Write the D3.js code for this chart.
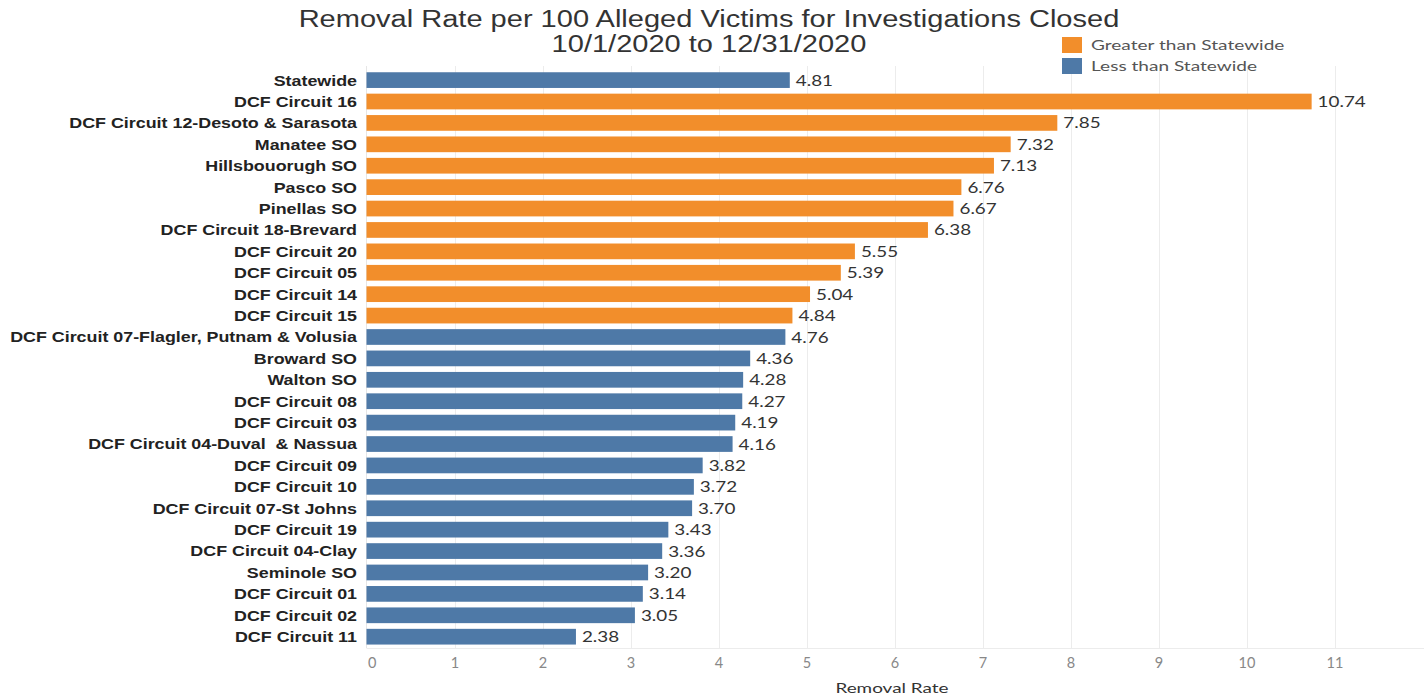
<!DOCTYPE html>
<html>
<head>
<meta charset="utf-8">
<script src="https://cdn.jsdelivr.net/npm/d3@7"></script>
<style>
  html, body { margin: 0; padding: 0; background: #fff; }
  svg { display: block; }
  text { white-space: pre; }
</style>
</head>
<body>
<svg id="chart" width="1424" height="696"></svg>
<script>
const categories = [
  "Statewide", "DCF Circuit 16", "DCF Circuit 12-Desoto & Sarasota", "Manatee SO",
  "Hillsbouorugh SO", "Pasco SO", "Pinellas SO", "DCF Circuit 18-Brevard",
  "DCF Circuit 20", "DCF Circuit 05", "DCF Circuit 14", "DCF Circuit 15",
  "DCF Circuit 07-Flagler, Putnam & Volusia", "Broward SO", "Walton SO",
  "DCF Circuit 08", "DCF Circuit 03", "DCF Circuit 04-Duval  & Nassua",
  "DCF Circuit 09", "DCF Circuit 10", "DCF Circuit 07-St Johns", "DCF Circuit 19",
  "DCF Circuit 04-Clay", "Seminole SO", "DCF Circuit 01", "DCF Circuit 02", "DCF Circuit 11"
];
const values = [
  4.81, 10.74, 7.85, 7.32, 7.13, 6.76, 6.67, 6.38, 5.55, 5.39, 5.04, 4.84,
  4.76, 4.36, 4.28, 4.27, 4.19, 4.16, 3.82, 3.72, 3.70, 3.43, 3.36, 3.20, 3.14, 3.05, 2.38
];
const groups = [
  "Less than Statewide", "Greater than Statewide", "Greater than Statewide", "Greater than Statewide",
  "Greater than Statewide", "Greater than Statewide", "Greater than Statewide", "Greater than Statewide",
  "Greater than Statewide", "Greater than Statewide", "Greater than Statewide", "Greater than Statewide",
  "Less than Statewide", "Less than Statewide", "Less than Statewide", "Less than Statewide",
  "Less than Statewide", "Less than Statewide", "Less than Statewide", "Less than Statewide",
  "Less than Statewide", "Less than Statewide", "Less than Statewide", "Less than Statewide",
  "Less than Statewide", "Less than Statewide", "Less than Statewide"
];
const legendLabels = ["Greater than Statewide", "Less than Statewide"];
const legendColors = ["#F28E2B", "#4E79A7"];
const xTicks = [0, 1, 2, 3, 4, 5, 6, 7, 8, 9, 10, 11];
const titleLines = ["Removal Rate per 100 Alleged Victims for Investigations Closed", "10/1/2020 to 12/31/2020"];
const xAxisTitle = "Removal Rate";

const data = categories.map((c, i) => ({ cat: c, val: values[i], grp: groups[i] }));

// horizontally stretch text (reference image is widened)
function stretch(sel, factor) {
  sel.each(function () {
    const w = this.getComputedTextLength();
    d3.select(this).attr("textLength", w * factor).attr("lengthAdjust", "spacingAndGlyphs");
  });
}

const svg = d3.select("#chart");
const x = d3.scaleLinear().domain([0, 11.96]).range([366.5, 1419]);
const y = d3.scaleBand().domain(categories).range([69.4, 647.4]).paddingInner(0.266).paddingOuter(0.133);
const color = d3.scaleOrdinal().domain(legendLabels).range(legendColors);

// gridlines
svg.append("g").selectAll("line").data(xTicks.slice(1)).join("line")
  .attr("x1", d => Math.round(x(d)) + 0.5).attr("x2", d => Math.round(x(d)) + 0.5)
  .attr("y1", 66).attr("y2", 648)
  .attr("stroke", "#ececec").attr("stroke-width", 1);

svg.append("line").attr("x1", x(0)).attr("x2", x(0)).attr("y1", 66).attr("y2", 648)
  .attr("stroke", "#e6e6e6");
svg.append("line").attr("x1", x(0)).attr("x2", 1424).attr("y1", 648.5).attr("y2", 648.5)
  .attr("stroke", "#ececec");

// bars
svg.append("g").selectAll("rect").data(data).join("rect")
  .attr("x", x(0))
  .attr("y", d => y(d.cat))
  .attr("width", d => x(d.val) - x(0))
  .attr("height", y.bandwidth())
  .attr("fill", d => color(d.grp));

// value labels
const vl = svg.append("g").selectAll("text").data(data).join("text")
  .attr("x", d => x(d.val) + 6)
  .attr("y", d => y(d.cat) + y.bandwidth() / 2)
  .attr("dy", "0.38em")
  .attr("font-family", "Lato, 'Open Sans', sans-serif")
  .attr("font-size", "14.5px")
  .attr("fill", "#333")
  .text(d => d.val.toFixed(2));
stretch(vl, 1.3);

// category labels
const cl = svg.append("g").selectAll("text").data(data).join("text")
  .attr("x", 357)
  .attr("y", d => y(d.cat) + y.bandwidth() / 2)
  .attr("dy", "0.36em")
  .attr("text-anchor", "end")
  .attr("font-family", "'Liberation Sans', Arial, sans-serif")
  .attr("font-weight", "bold")
  .attr("font-size", "15px")
  .attr("fill", "#222")
  .text(d => d.cat);
stretch(cl, 1.19);

// x axis
const xAxis = d3.axisBottom(x).tickValues(xTicks).tickSize(0).tickPadding(10).tickFormat(d3.format("d"));
const gx = svg.append("g").attr("transform", "translate(0,648)").call(xAxis);
gx.select(".domain").remove();
gx.selectAll("text")
  .attr("font-family", "Lato, 'Open Sans', sans-serif")
  .attr("font-size", "14.5px")
  .attr("fill", "#888");
gx.selectAll(".tick").filter(d => d === 0).select("text").attr("text-anchor", "start").attr("dx", "1");

const at = svg.append("text").attr("x", 892).attr("y", 693)
  .attr("text-anchor", "middle")
  .attr("font-family", "Lato, 'Open Sans', sans-serif")
  .attr("font-size", "13.5px")
  .attr("fill", "#333")
  .text(xAxisTitle);
stretch(at, 1.4);

// title
const tt = svg.append("g").selectAll("text").data(titleLines).join("text")
  .attr("x", 709)
  .attr("y", (d, i) => 27 + i * 25)
  .attr("text-anchor", "middle")
  .attr("font-family", "'Liberation Sans', Arial, sans-serif")
  .attr("font-size", "23px")
  .attr("fill", "#333")
  .text(d => d);
stretch(tt, 1.262);

// legend
const lg = svg.append("g").selectAll("g").data(legendLabels).join("g")
  .attr("transform", (d, i) => `translate(1062, ${37 + i * 21})`);
lg.append("rect").attr("width", 20).attr("height", 16).attr("fill", d => color(d));
const lt = lg.append("text").attr("x", 29).attr("y", 8).attr("dy", "0.36em")
  .attr("font-family", "Lato, 'Open Sans', sans-serif")
  .attr("font-size", "14px")
  .attr("fill", "#555")
  .text(d => d);
stretch(lt, 1.36);
</script>
</body>
</html>
